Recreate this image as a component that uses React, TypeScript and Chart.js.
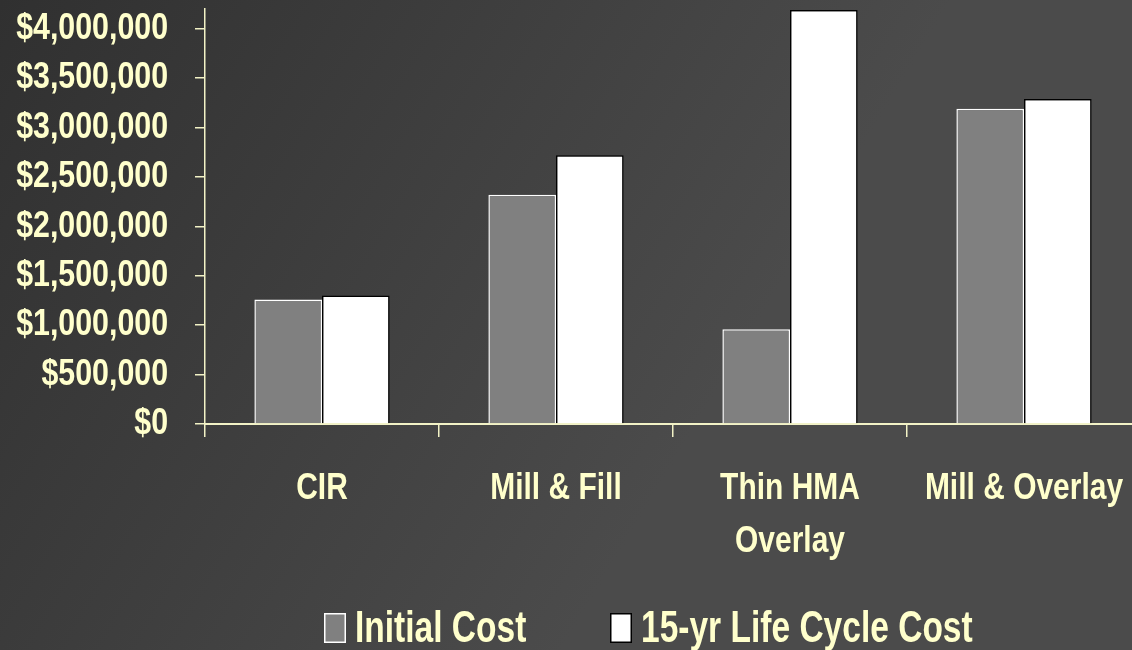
import React, { useEffect, useRef } from "react";
import { Chart, registerables } from "chart.js";

Chart.register(...registerables);

// Cost comparison data
const categories: string[][] = [["CIR"], ["Mill & Fill"], ["Thin HMA", "Overlay"], ["Mill & Overlay"]];
const initialCost = [1260000, 2320000, 960000, 3190000];
const lifeCycleCost = [1300000, 2720000, 4190000, 3290000];
const seriesNames = ["Initial Cost", "15-yr Life Cycle Cost"];
const yTickValues = [0, 500000, 1000000, 1500000, 2000000, 2500000, 3000000, 3500000, 4000000];

const TEXT = "#FFFFCC";
const AXIS = "#F2F2C6";
const FONT = "'Liberation Sans', Arial, sans-serif";

const money = (v: number) => "$" + Math.round(v).toLocaleString("en-US");

// Draws text horizontally condensed (narrow bold face)
function narrowText(
  ctx: CanvasRenderingContext2D,
  text: string,
  x: number,
  y: number,
  size: number,
  sx: number,
  align: CanvasTextAlign,
  baseline: CanvasTextBaseline
) {
  ctx.save();
  ctx.translate(x, y);
  ctx.scale(sx, 1);
  ctx.font = `bold ${size}px ${FONT}`;
  ctx.textAlign = align;
  ctx.textBaseline = baseline;
  ctx.fillStyle = TEXT;
  ctx.fillText(text, 0, 0);
  ctx.restore();
}

// Paints the dark diagonal background across the whole canvas
const backgroundPlugin = {
  id: "bgGradient",
  beforeDraw(chart: any) {
    const { ctx, width, height } = chart;
    const g = ctx.createLinearGradient(0, 0, 700, 420);
    g.addColorStop(0, "#303030");
    g.addColorStop(1, "#4b4b4b");
    ctx.save();
    ctx.fillStyle = g;
    ctx.fillRect(0, 0, width, height);
    ctx.restore();
  },
};

// Axis labels in a condensed face, positioned from the chart's scales
const axisLabelPlugin = {
  id: "narrowAxisLabels",
  afterDraw(chart: any) {
    const { ctx } = chart;
    const y = chart.scales.y;
    const x = chart.scales.x;
    for (const t of y.ticks) {
      narrowText(ctx, money(t.value), y.right - 37, y.getPixelForValue(t.value), 37, 0.82, "right", "middle");
    }
    categories.forEach((lines, i) => {
      const cx = x.getPixelForTick(i);
      lines.forEach((line, j) => {
        narrowText(ctx, line, cx, x.top + 75 + j * 53, 37, 0.81, "center", "alphabetic");
      });
    });
  },
};

// Legend row under the category labels
const legendPlugin = {
  id: "bottomLegend",
  afterDraw(chart: any) {
    const { ctx } = chart;
    const items = [
      { x: 324, fill: "#808080", stroke: "#FFFFFF", text: seriesNames[0] },
      { x: 610, fill: "#FFFFFF", stroke: "#000000", text: seriesNames[1] },
    ];
    for (const it of items) {
      ctx.save();
      ctx.fillStyle = it.fill;
      ctx.fillRect(it.x, 613, 22, 30);
      ctx.strokeStyle = it.stroke;
      ctx.lineWidth = 1.5;
      ctx.strokeRect(it.x + 0.75, 613.75, 20.5, 28.5);
      ctx.restore();
      narrowText(ctx, it.text, it.x + 31, 642, 44, 0.762, "left", "alphabetic");
    }
  },
};

export default function App() {
  const ref = useRef<HTMLCanvasElement>(null);

  useEffect(() => {
    if (!ref.current) return;
    const chart = new Chart(ref.current, {
      type: "bar",
      data: {
        labels: categories.map((c) => c.join(" ")),
        datasets: [
          {
            label: seriesNames[0],
            data: initialCost,
            backgroundColor: "#808080",
            borderColor: "#FFFFFF",
            borderWidth: 1.5,
            borderSkipped: "bottom",
          },
          {
            label: seriesNames[1],
            data: lifeCycleCost,
            backgroundColor: "#FFFFFF",
            borderColor: "#000000",
            borderWidth: 1.5,
            borderSkipped: "bottom",
          },
        ],
      },
      options: {
        responsive: false,
        animation: false,
        devicePixelRatio: 1,
        layout: { padding: { top: 9, left: 0, right: 0, bottom: 0 } },
        datasets: { bar: { categoryPercentage: 0.578, barPercentage: 1 } },
        plugins: {
          legend: { display: false },
          tooltip: { enabled: false },
        },
        scales: {
          x: {
            offset: true,
            grid: {
              offset: true,
              drawOnChartArea: false,
              drawTicks: true,
              tickLength: 13,
              color: AXIS,
              lineWidth: 1.5,
            },
            border: { display: true, color: AXIS, width: 2 },
            ticks: { display: false },
            afterFit(scale: any) {
              scale.height = 226;
            },
          },
          y: {
            min: 0,
            max: 4200000,
            grid: {
              drawOnChartArea: false,
              drawTicks: true,
              tickLength: 10,
              color: AXIS,
              lineWidth: 1.5,
            },
            border: { display: true, color: AXIS, width: 1.5 },
            ticks: { display: false },
            afterBuildTicks(scale: any) {
              scale.ticks = yTickValues.map((v) => ({ value: v }));
            },
            afterFit(scale: any) {
              scale.width = 205;
            },
          },
        },
      },
      plugins: [backgroundPlugin, axisLabelPlugin, legendPlugin],
    });
    return () => chart.destroy();
  }, []);

  return (
    <div
      style={{
        position: "fixed",
        left: 0,
        top: 0,
        width: 1132,
        height: 650,
        overflow: "hidden",
        background: "#404040",
      }}
    >
      <canvas ref={ref} width={1141} height={650} style={{ display: "block" }} />
    </div>
  );
}
